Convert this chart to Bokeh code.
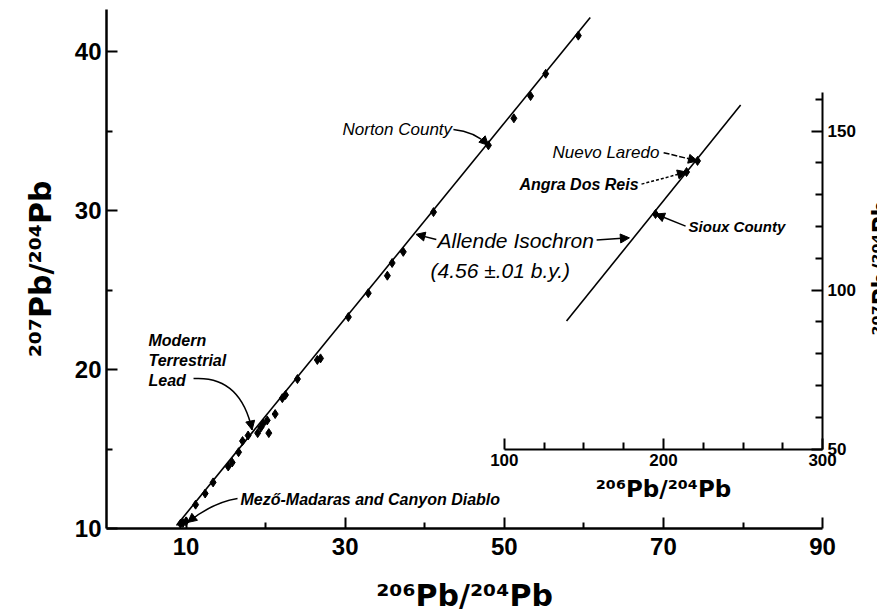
import math
from bokeh.plotting import figure
from bokeh.models import Range1d, LinearAxis, FixedTicker, Label, Arrow, NormalHead
from bokeh.embed import file_html
from bokeh.resources import INLINE

# ---------------- data ----------------
# main panel: 206Pb/204Pb vs 207Pb/204Pb
pb206_204 = [9.3, 9.6, 10.0, 11.2, 12.4, 13.4, 15.3, 15.8, 16.6, 17.1, 17.8,
             19.0, 19.4, 19.7, 20.2, 20.4, 21.2, 22.1, 22.5, 24.0, 26.5, 26.9,
             30.4, 32.9, 35.3, 35.9, 37.3, 41.1, 48.0, 51.2, 53.3, 55.2, 59.3]
pb207_204 = [10.3, 10.35, 10.45, 11.5, 12.2, 12.9, 13.9, 14.15, 14.8, 15.5, 15.85,
             16.0, 16.35, 16.6, 16.8, 16.0, 17.2, 18.2, 18.4, 19.4, 20.6, 20.7,
             23.3, 24.8, 25.9, 26.7, 27.4, 29.9, 34.1, 35.8, 37.2, 38.6, 41.0]
norton_county = (48.0, 34.1)
canyon_diablo = (10.2, 10.38)
modern_lead = (18.3, 16.2)

# Allende isochron (4.56 b.y.), main panel and inset
iso_main_x = [8.8, 60.8]
iso_main_y = [10.19, 42.14]
iso_inset_x = [139.1, 248.5]
iso_inset_y = [90.25, 158.2]

# inset: radiogenic meteorites
inset_names = ["Nuevo Laredo", "Angra Dos Reis", "Sioux County"]
inset_x = [221.4, 214.5, 195.0]
inset_y = [140.6, 137.1, 123.9]

# ticks
main_x_ticks = [10, 30, 50, 70, 90]
main_x_minor = [20, 40, 60, 80]
main_y_ticks = [10, 20, 30, 40]
main_y_minor = [15, 25, 35]
inset_x_ticks = [100, 200, 300]
inset_x_minor = [125, 150, 175, 225, 250, 275]
inset_y_ticks = [50, 100, 150]
inset_y_minor = [60, 70, 80, 90, 110, 120, 130, 140, 160]
main_x_bounds = (0, 90)
main_y_bounds = (10, 42.64)
inset_x_bounds = (100, 300)
inset_y_bounds = (50, 162)

x_label = "²⁰⁶Pb/²⁰⁴Pb"
y_label = "²⁰⁷Pb/²⁰⁴Pb"

# ---------------- ranges ----------------
# the plotting area covers the whole canvas; axes are drawn at fixed places
main_xr = (-13.32, 96.9)
main_yr = (4.717, 43.21)
# the inset shares the main area: inset 100..300 sits on main 50..90,
# inset 50 sits on main 15, 5 inset units per main unit
def to_inset_x(v):
    return 100 + (v - 50) * 5
def to_inset_y(v):
    return 50 + (v - 15) * 5
def inset_y_to_main(v):
    return 15 + (v - 50) / 5
inset_xr = (to_inset_x(main_xr[0]), to_inset_x(main_xr[1]))
inset_yr = (to_inset_y(main_yr[0]), to_inset_y(main_yr[1]))

p = figure(width=877, height=612, output_backend="svg", toolbar_location=None,
           x_range=Range1d(*main_xr), y_range=Range1d(*main_yr),
           x_axis_location=None, y_axis_location=None,
           min_border=0, min_border_left=0, min_border_right=0,
           min_border_top=0, min_border_bottom=0)
p.extra_x_ranges = {"ix": Range1d(*inset_xr)}
p.extra_y_ranges = {"iy": Range1d(*inset_yr)}
p.outline_line_color = None
p.grid.visible = False
p.xgrid.grid_line_color = None
p.ygrid.grid_line_color = None
p.background_fill_color = "white"
p.border_fill_color = "white"

def style_axis(ax, major_size, lw):
    ax.major_tick_in = 11
    ax.major_tick_out = 0
    ax.minor_tick_in = 6
    ax.minor_tick_out = 0
    ax.axis_line_width = lw
    ax.axis_line_color = "black"
    ax.major_tick_line_width = 2
    ax.minor_tick_line_width = 2
    ax.major_tick_line_color = "black"
    ax.minor_tick_line_color = "black"
    ax.major_label_text_font = "Liberation Sans"
    ax.major_label_text_font_style = "bold"
    ax.major_label_text_font_size = major_size
    ax.major_label_text_color = "black"
    ax.major_label_standoff = 5
    ax.axis_label_text_font = "DejaVu Sans"
    ax.axis_label_text_font_style = "bold"
    ax.axis_label_text_color = "black"

# main x axis
xa = LinearAxis(fixed_location=main_y_bounds[0], bounds=main_x_bounds,
                ticker=FixedTicker(ticks=main_x_ticks, minor_ticks=main_x_minor))
style_axis(xa, "24px", 2.5)
xa.major_label_standoff = 9
xa.axis_label = x_label
xa.axis_label_text_font_size = "30px"
xa.axis_label_standoff = 20
p.add_layout(xa, "below")

# main y axis
ya = LinearAxis(fixed_location=main_x_bounds[0], bounds=main_y_bounds,
                ticker=FixedTicker(ticks=main_y_ticks, minor_ticks=main_y_minor))
style_axis(ya, "24px", 2.5)
ya.axis_label = y_label
ya.axis_label_text_font_size = "30px"
ya.axis_label_standoff = 14
p.add_layout(ya, "left")

# inset x axis
ixa = LinearAxis(x_range_name="ix", fixed_location=inset_y_to_main(inset_y_bounds[0]),
                 bounds=inset_x_bounds,
                 ticker=FixedTicker(ticks=inset_x_ticks, minor_ticks=inset_x_minor))
style_axis(ixa, "17px", 2)
ixa.minor_tick_in = 7
ixa.axis_label = x_label
ixa.axis_label_text_font_size = "23px"
ixa.axis_label_standoff = 6
p.add_layout(ixa, "below")

# inset y axis, standing at the end of the main x axis
iya = LinearAxis(y_range_name="iy", fixed_location=main_x_bounds[1], bounds=inset_y_bounds,
                 ticker=FixedTicker(ticks=inset_y_ticks, minor_ticks=inset_y_minor))
style_axis(iya, "17px", 2)
iya.minor_tick_in = 7
p.add_layout(iya, "right")

p.add_layout(Label(x=main_x_bounds[1], y=inset_y_to_main(107), x_offset=45, angle=math.pi / 2,
                   text=y_label, text_align="center", text_baseline="top",
                   text_font="DejaVu Sans", text_font_style="bold",
                   text_font_size="23px", text_color="black"))

# isochron lines
p.line(iso_main_x, iso_main_y, line_color="black", line_width=1.6)
p.line(iso_inset_x, iso_inset_y, line_color="black", line_width=1.6,
       x_range_name="ix", y_range_name="iy")

# data points
p.scatter(pb206_204, pb207_204, marker="diamond", size=9, color="black")
p.scatter(inset_x, inset_y, marker="diamond", size=9, color="black",
          x_range_name="ix", y_range_name="iy")

# ---------------- annotations ----------------
def label(x, y, text, size, style, align="left", baseline="middle", rng=None):
    kw = {}
    if rng:
        kw = dict(x_range_name="ix", y_range_name="iy")
    p.add_layout(Label(x=x, y=y, text=text, text_font="Liberation Sans",
                       text_font_style=style, text_font_size=size, text_color="black",
                       text_align=align, text_baseline=baseline, **kw))

def arrow(x0, y0, x1, y1, dash="solid", rng=None, shaft=True):
    kw = {}
    if rng:
        kw = dict(x_range_name="ix", y_range_name="iy")
    p.add_layout(Arrow(end=NormalHead(size=9, fill_color="black", line_color="black", line_width=1),
                       x_start=x0, y_start=y0, x_end=x1, y_end=y1,
                       line_width=1.5, line_color="black", line_dash=dash,
                       line_alpha=1 if shaft else 0, **kw))

def curved_arrow(x0, y0, cx, cy, x1, y1):
    p.quadratic(x0=[x0], y0=[y0], cx=[cx], cy=[cy], x1=[x1], y1=[y1],
                line_color="black", line_width=1.5)
    arrow(cx, cy, x1, y1, shaft=False)

# Norton County
label(29.66, 35.09, "Norton County", "17px", "italic")
curved_arrow(43.6, 35.09, 46.25, 34.97, *norton_county)

# Allende isochron
label(41.6, 28.11, "Allende Isochron", "21px", "italic")
label(40.72, 26.23, "(4.56 ±.01 b.y.)", "21px", "italic")
arrow(41.45, 28.18, 38.9, 28.5)
arrow(158.0, 115.7, 178.6, 116.4, rng=True)

# Inset labels
label(130.3, 143.1, inset_names[0], "17px", "italic", rng=True)
arrow(200.1, 143.2, inset_x[0], inset_y[0], dash="6 2", rng=True)
label(184.35, 133.3, inset_names[1], "16px", "bold italic", align="right", rng=True)
arrow(186.2, 133.3, inset_x[1], inset_y[1], dash="3 2", rng=True)
label(215.8, 120.1, inset_names[2], "15px", "bold italic", rng=True)
arrow(213.9, 120.1, inset_x[2], inset_y[2], rng=True)

# Modern terrestrial lead
label(5.28, 22.39, "Modern\nTerrestrial\nLead", "16px", "bold italic", baseline="top")
curved_arrow(10.94, 19.43, 16.84, 19.62, *modern_lead)

# Mezo-Madaras and Canyon Diablo
label(16.84, 11.82, "Mező-Madaras and Canyon Diablo", "16px", "bold italic")
curved_arrow(16.47, 11.89, 13.32, 11.64, *canyon_diablo)

open("out.html", "w").write(file_html(p, INLINE))
